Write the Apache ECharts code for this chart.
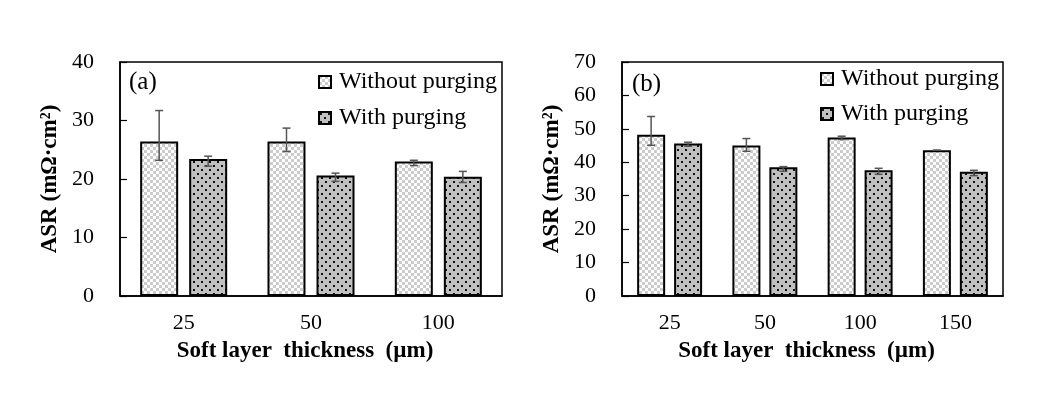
<!DOCTYPE html>
<html>
<head>
<meta charset="utf-8">
<script src="https://cdn.jsdelivr.net/npm/echarts@6/dist/echarts.min.js"></script>
<style>
html,body{margin:0;padding:0;background:#fff;}
#c{width:1053px;height:417px;}
</style>
</head>
<body>
<div id="c"></div>
<script>
// ---- data ----
const catsA = ['25', '50', '100'];
const catsB = ['25', '50', '100', '150'];
const seriesNames = ['Without purging', 'With purging'];

const aWithout = [26.4, 26.4, 23.0];
const aWithoutHigh = [31.7, 28.7, 23.2];
const aWithoutLow = [23.2, 24.7, 22.3];
const aWith = [23.4, 20.6, 20.4];
const aWithHigh = [23.9, 21.0, 21.3];
const aWithLow = [22.2, 19.6, 19.4];

const bWithout = [48.2, 45.0, 47.4, 43.6];
const bWithoutHigh = [53.7, 47.1, 47.8, 43.6];
const bWithoutLow = [45.1, 43.3, 46.8, 43.6];
const bWith = [45.6, 38.5, 37.6, 37.2];
const bWithHigh = [46.0, 38.7, 38.2, 37.6];
const bWithLow = [44.8, 37.3, 36.4, 36.0];

const yTicksA = {min: 0, max: 40, interval: 10};
const yTicksB = {min: 0, max: 70, interval: 10};

// ---- patterns ----
function checkerPattern() {
  const c = document.createElement('canvas');
  c.width = 6; c.height = 6;
  const g = c.getContext('2d');
  g.fillStyle = '#ffffff'; g.fillRect(0, 0, 6, 6);
  g.fillStyle = '#cccccc';
  g.fillRect(0, 0, 3, 3); g.fillRect(3, 3, 3, 3);
  return c;
}
function dotPattern() {
  const c = document.createElement('canvas');
  c.width = 8; c.height = 8;
  const g = c.getContext('2d');
  g.fillStyle = '#c0c0c0'; g.fillRect(0, 0, 8, 8);
  g.fillStyle = '#111111';
  g.fillRect(1, 1, 2, 2); g.fillRect(5, 5, 2, 2);
  return c;
}
const fillWithout = {image: checkerPattern(), repeat: 'repeat'};
const fillWith = {image: dotPattern(), repeat: 'repeat'};

const FONT = 'Liberation Serif';

function errData(low, high) {
  return low.map((l, i) => [i, l, high[i]]);
}
function errRender(offset) {
  return function (params, api) {
    const x = api.value(0);
    const lo = api.coord([x, api.value(1)]);
    const hi = api.coord([x, api.value(2)]);
    const cx = lo[0] + offset;
    const w = 4;
    const st = {stroke: '#555555', lineWidth: 1.5};
    return {
      type: 'group',
      children: [
        {type: 'line', shape: {x1: cx, y1: lo[1], x2: cx, y2: hi[1]}, style: st},
        {type: 'line', shape: {x1: cx - w, y1: hi[1], x2: cx + w, y2: hi[1]}, style: st},
        {type: 'line', shape: {x1: cx - w, y1: lo[1], x2: cx + w, y2: lo[1]}, style: st}
      ]
    };
  };
}

function xAxisCfg(idx, cats) {
  return {
    type: 'category', gridIndex: idx, data: cats,
    axisLine: {lineStyle: {color: '#000', width: 1.5}},
    axisTick: {show: false},
    axisLabel: {color: '#000', fontFamily: FONT, fontSize: 22, margin: 16},
    name: 'Soft layer  thickness  (µm)', nameLocation: 'middle', nameGap: 44,
    nameTextStyle: {color: '#000', fontFamily: FONT, fontSize: 23, fontWeight: 'bold', padding: [0, 12, 0, 0]}
  };
}
function yAxisCfg(idx, t) {
  return {
    type: 'value', gridIndex: idx, min: t.min, max: t.max, interval: t.interval,
    axisLine: {show: true, lineStyle: {color: '#000', width: 1.5}},
    axisTick: {show: true, inside: true, length: 7, lineStyle: {color: '#000', width: 1.2}},
    splitLine: {show: false},
    axisLabel: {color: '#000', fontFamily: FONT, fontSize: 22, margin: 26},
    name: 'ASR (mΩ·cm²)', nameLocation: 'middle', nameGap: 58,
    nameTextStyle: {color: '#000', fontFamily: FONT, fontSize: 23, fontWeight: 'bold'}
  };
}
const barStyle = (fill) => ({color: fill, borderColor: '#000', borderWidth: 2});

const legendText = {color: '#000', fontFamily: FONT, fontSize: 24, padding: [0, 0, 0, 3]};

const option = {
  backgroundColor: '#fff',
  animation: false,
  grid: [
    {left: 120, top: 62, width: 382, height: 234, show: true, borderColor: '#000', borderWidth: 1.5, backgroundColor: 'transparent'},
    {left: 622, top: 62, width: 381, height: 234, show: true, borderColor: '#000', borderWidth: 1.5, backgroundColor: 'transparent'}
  ],
  xAxis: [xAxisCfg(0, catsA), xAxisCfg(1, catsB)],
  yAxis: [yAxisCfg(0, yTicksA), yAxisCfg(1, yTicksB)],
  legend: [
    {data: seriesNames, orient: 'vertical', left: 318, top: 70, padding: 0, itemWidth: 12, itemHeight: 12, itemGap: 12,
     icon: 'rect', selectedMode: false, textStyle: legendText},
    {data: seriesNames, orient: 'vertical', left: 820, top: 67, padding: 0, itemWidth: 12, itemHeight: 12, itemGap: 11,
     icon: 'rect', selectedMode: false, textStyle: legendText}
  ],
  graphic: [
    {type: 'text', left: 129, top: 70, style: {text: '(a)', font: '25px "Liberation Serif"', fill: '#000'}},
    {type: 'text', left: 632, top: 72, style: {text: '(b)', font: '25px "Liberation Serif"', fill: '#000'}}
  ],
  series: [
    {name: seriesNames[0], type: 'bar', xAxisIndex: 0, yAxisIndex: 0, data: aWithout, barWidth: 38, barGap: '29%', itemStyle: barStyle(fillWithout)},
    {name: seriesNames[1], type: 'bar', xAxisIndex: 0, yAxisIndex: 0, data: aWith, barWidth: 38, barGap: '29%', itemStyle: barStyle(fillWith)},
    {name: seriesNames[0], type: 'bar', xAxisIndex: 1, yAxisIndex: 1, data: bWithout, barWidth: 28, barGap: '32%', itemStyle: barStyle(fillWithout)},
    {name: seriesNames[1], type: 'bar', xAxisIndex: 1, yAxisIndex: 1, data: bWith, barWidth: 28, barGap: '32%', itemStyle: barStyle(fillWith)},
    {type: 'custom', xAxisIndex: 0, yAxisIndex: 0, data: errData(aWithoutLow, aWithoutHigh), renderItem: errRender(-24.5), z: 10},
    {type: 'custom', xAxisIndex: 0, yAxisIndex: 0, data: errData(aWithLow, aWithHigh), renderItem: errRender(24.5), z: 10},
    {type: 'custom', xAxisIndex: 1, yAxisIndex: 1, data: errData(bWithoutLow, bWithoutHigh), renderItem: errRender(-18.5), z: 10},
    {type: 'custom', xAxisIndex: 1, yAxisIndex: 1, data: errData(bWithLow, bWithHigh), renderItem: errRender(18.5), z: 10}
  ]
};
const chart = echarts.init(document.getElementById('c'));
chart.setOption(option);
</script>
</body>
</html>
